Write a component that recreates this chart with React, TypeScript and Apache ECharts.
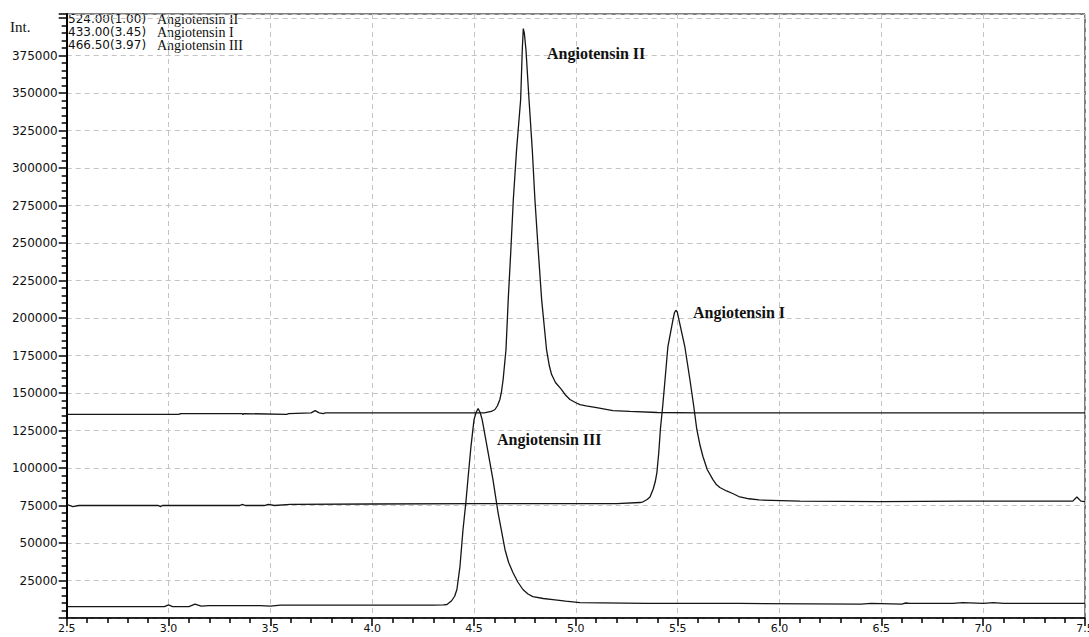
import React, { useEffect, useRef } from "react";
import * as echarts from "echarts";

// Retention time (min) and intensity pairs
const angiotensinII: [number, number][] = [
  [2.5, 135700], [3.05, 135700], [3.06, 136300], [3.36, 136300], [3.365, 135700], [3.37, 136300],
  [3.58, 135800], [3.59, 136300], [3.70, 136800], [3.72, 138300], [3.74, 136800], [3.76, 136300],
  [3.77, 136800], [4.0, 136800], [4.3, 136800], [4.5, 136800], [4.55, 136800], [4.585, 137700],
  [4.603, 139000], [4.615, 141500], [4.627, 145700], [4.635, 151000], [4.643, 159000],
  [4.657, 179000], [4.668, 212300], [4.681, 245700], [4.693, 279000], [4.709, 312300],
  [4.729, 345700], [4.737, 379000], [4.742, 393000], [4.747, 390000], [4.755, 379000],
  [4.770, 345700], [4.786, 312300], [4.799, 279000], [4.815, 245700], [4.832, 212300],
  [4.856, 179000], [4.87, 168000], [4.881, 162300], [4.90, 157000], [4.930, 152300],
  [4.95, 148500], [4.971, 145700], [5.0, 143500], [5.020, 142300], [5.05, 141500],
  [5.102, 140300], [5.182, 138300], [5.265, 137700], [5.4, 137000], [5.6, 136800],
  [6.0, 136800], [6.5, 136800], [7.0, 136800], [7.5, 136800],
];

const angiotensinI: [number, number][] = [
  [2.5, 75700], [2.53, 74300], [2.56, 75000], [2.95, 75000], [2.96, 74300], [2.97, 75000],
  [3.35, 75000], [3.36, 75700], [3.38, 75000], [3.47, 75000], [3.49, 75700], [3.52, 75000],
  [3.6, 75700], [4.0, 76000], [4.5, 76300], [5.0, 76300], [5.2, 76300], [5.315, 77000],
  [5.33, 77500], [5.35, 79000], [5.364, 80700], [5.38, 86000], [5.39, 91000], [5.398, 97000],
  [5.407, 110000], [5.415, 125700], [5.427, 142000], [5.438, 159000], [5.452, 181000],
  [5.477, 199000], [5.484, 203500], [5.491, 205200], [5.498, 204000], [5.506, 199000],
  [5.535, 181000], [5.560, 159000], [5.578, 142000], [5.594, 125700], [5.61, 115000],
  [5.624, 107700], [5.645, 99000], [5.673, 92300], [5.69, 89000], [5.707, 87000],
  [5.74, 84700], [5.77, 83000], [5.80, 81000], [5.85, 79500], [5.90, 78700], [6.1, 77900],
  [6.5, 77600], [6.9, 77900], [7.2, 77900], [7.44, 77900], [7.46, 80700], [7.48, 77900],
  [7.5, 77600],
];

const angiotensinIII: [number, number][] = [
  [2.5, 7600], [2.98, 7600], [3.0, 8700], [3.02, 7600], [3.1, 7600], [3.13, 9300], [3.16, 7900],
  [3.2, 8300], [3.45, 8300], [3.5, 7900], [3.55, 8600], [4.0, 8600], [4.3, 8600], [4.35, 8700],
  [4.367, 9000], [4.39, 11500], [4.405, 14500], [4.416, 19000], [4.431, 34300], [4.446, 59000],
  [4.460, 77000], [4.470, 92300], [4.485, 114300], [4.500, 132300], [4.51, 137000],
  [4.520, 139700], [4.53, 137000], [4.540, 132300], [4.564, 114300], [4.593, 92300],
  [4.618, 70300], [4.652, 45700], [4.67, 37000], [4.691, 30300], [4.715, 24000], [4.740, 19000],
  [4.765, 16000], [4.789, 14300], [4.84, 13000], [4.887, 12300], [4.95, 11200], [5.020, 10300],
  [5.349, 9700], [5.8, 9700], [6.4, 9300], [6.45, 9700], [6.6, 9300], [6.62, 10000],
  [6.64, 9700], [6.85, 9700], [6.9, 10300], [7.0, 9700], [7.05, 10300], [7.1, 9700], [7.5, 9700],
];

const legendCodes = ["524.00(1.00)", "433.00(3.45)", "466.50(3.97)"];
const legendNames = ["Angiotensin II", "Angiotensin I", "Angiotensin III"];

const xTickStep = 0.5;
const yTickStep = 25000;

export default function App() {
  const ref = useRef<HTMLDivElement>(null);

  useEffect(() => {
    if (!ref.current) return;
    const chart = echarts.init(ref.current, null, { renderer: "svg" });
    const grid = "#c4c4c4";
    const ink = "#111";
    const sans = "DejaVu Sans";
    const serif = "Liberation Serif";

    const series = [angiotensinII, angiotensinI, angiotensinIII].map((d, i) => ({
      type: "line",
      name: legendNames[i],
      data: d,
      showSymbol: false,
      symbol: "none",
      lineStyle: { color: "#151515", width: 1.3 },
      clip: true,
      z: 3,
    }));

    const graphics: any[] = [
      {
        type: "text",
        left: 10,
        top: 19,
        style: { text: "Int.", font: `15px "${serif}"`, fill: ink },
      },
    ];
    legendCodes.forEach((c, i) => {
      graphics.push({
        type: "text",
        x: 68,
        y: 19 + i * 13,
        style: { text: c, font: `12px "${sans}"`, fill: ink, textVerticalAlign: "middle" },
      });
      graphics.push({
        type: "text",
        x: 157,
        y: 19 + i * 13,
        style: { text: legendNames[i], font: `14px "${serif}"`, fill: ink, textVerticalAlign: "middle" },
      });
    });
    const peakLabels = [
      { text: "Angiotensin II", x: 547, y: 53 },
      { text: "Angiotensin I", x: 693, y: 312 },
      { text: "Angiotensin III", x: 497, y: 439 },
    ];
    peakLabels.forEach((p) =>
      graphics.push({
        type: "text",
        x: p.x,
        y: p.y,
        style: {
          text: p.text,
          font: `bold 16px "${serif}"`,
          fill: "#111",
          textVerticalAlign: "middle",
        },
        z: 10,
      })
    );

    chart.setOption({
      animation: false,
      backgroundColor: "#fff",
      grid: {
        left: 66.7,
        right: 4,
        top: 14,
        bottom: 19,
        show: true,
        borderColor: "#000",
        borderWidth: 1,
        containLabel: false,
        outerBoundsMode: "none",
      },
      xAxis: {
        type: "value",
        min: 2.5,
        max: 7.5,
        interval: xTickStep,
        axisLine: { show: true, lineStyle: { color: "#000", width: 1.5 } },
        axisTick: { show: true, length: 8, lineStyle: { color: "#000", width: 1.5 } },
        minorTick: { show: true, splitNumber: 5, length: 5, lineStyle: { color: "#000", width: 1.5 } },
        axisLabel: {
          margin: 5,
          color: ink,
          fontFamily: sans,
          fontSize: 11,
          formatter: (v: number) => v.toFixed(1),
          showMaxLabel: true,
          showMinLabel: true,
        },
        splitLine: { show: true, lineStyle: { color: grid, type: [5, 4], width: 1 } },
      },
      yAxis: {
        type: "value",
        min: 0,
        max: 402700,
        interval: yTickStep,
        axisLine: { show: true, lineStyle: { color: "#000", width: 2 } },
        axisTick: { show: true, length: 8, lineStyle: { color: "#000", width: 1.5 } },
        minorTick: { show: true, splitNumber: 5, length: 5, lineStyle: { color: "#000", width: 1.5 } },
        axisLabel: {
          margin: 9,
          color: ink,
          fontFamily: sans,
          fontSize: 12,
          formatter: (v: number) => (v === 0 || v >= 400000 ? "" : String(v)),
        },
        splitLine: { show: true, lineStyle: { color: grid, type: [5, 4], width: 1 } },
      },
      series,
      graphic: graphics,
    });

    return () => chart.dispose();
  }, []);

  return (
    <div
      ref={ref}
      style={{ position: "absolute", left: 0, top: 0, width: 1089, height: 637, background: "#fff" }}
    />
  );
}
